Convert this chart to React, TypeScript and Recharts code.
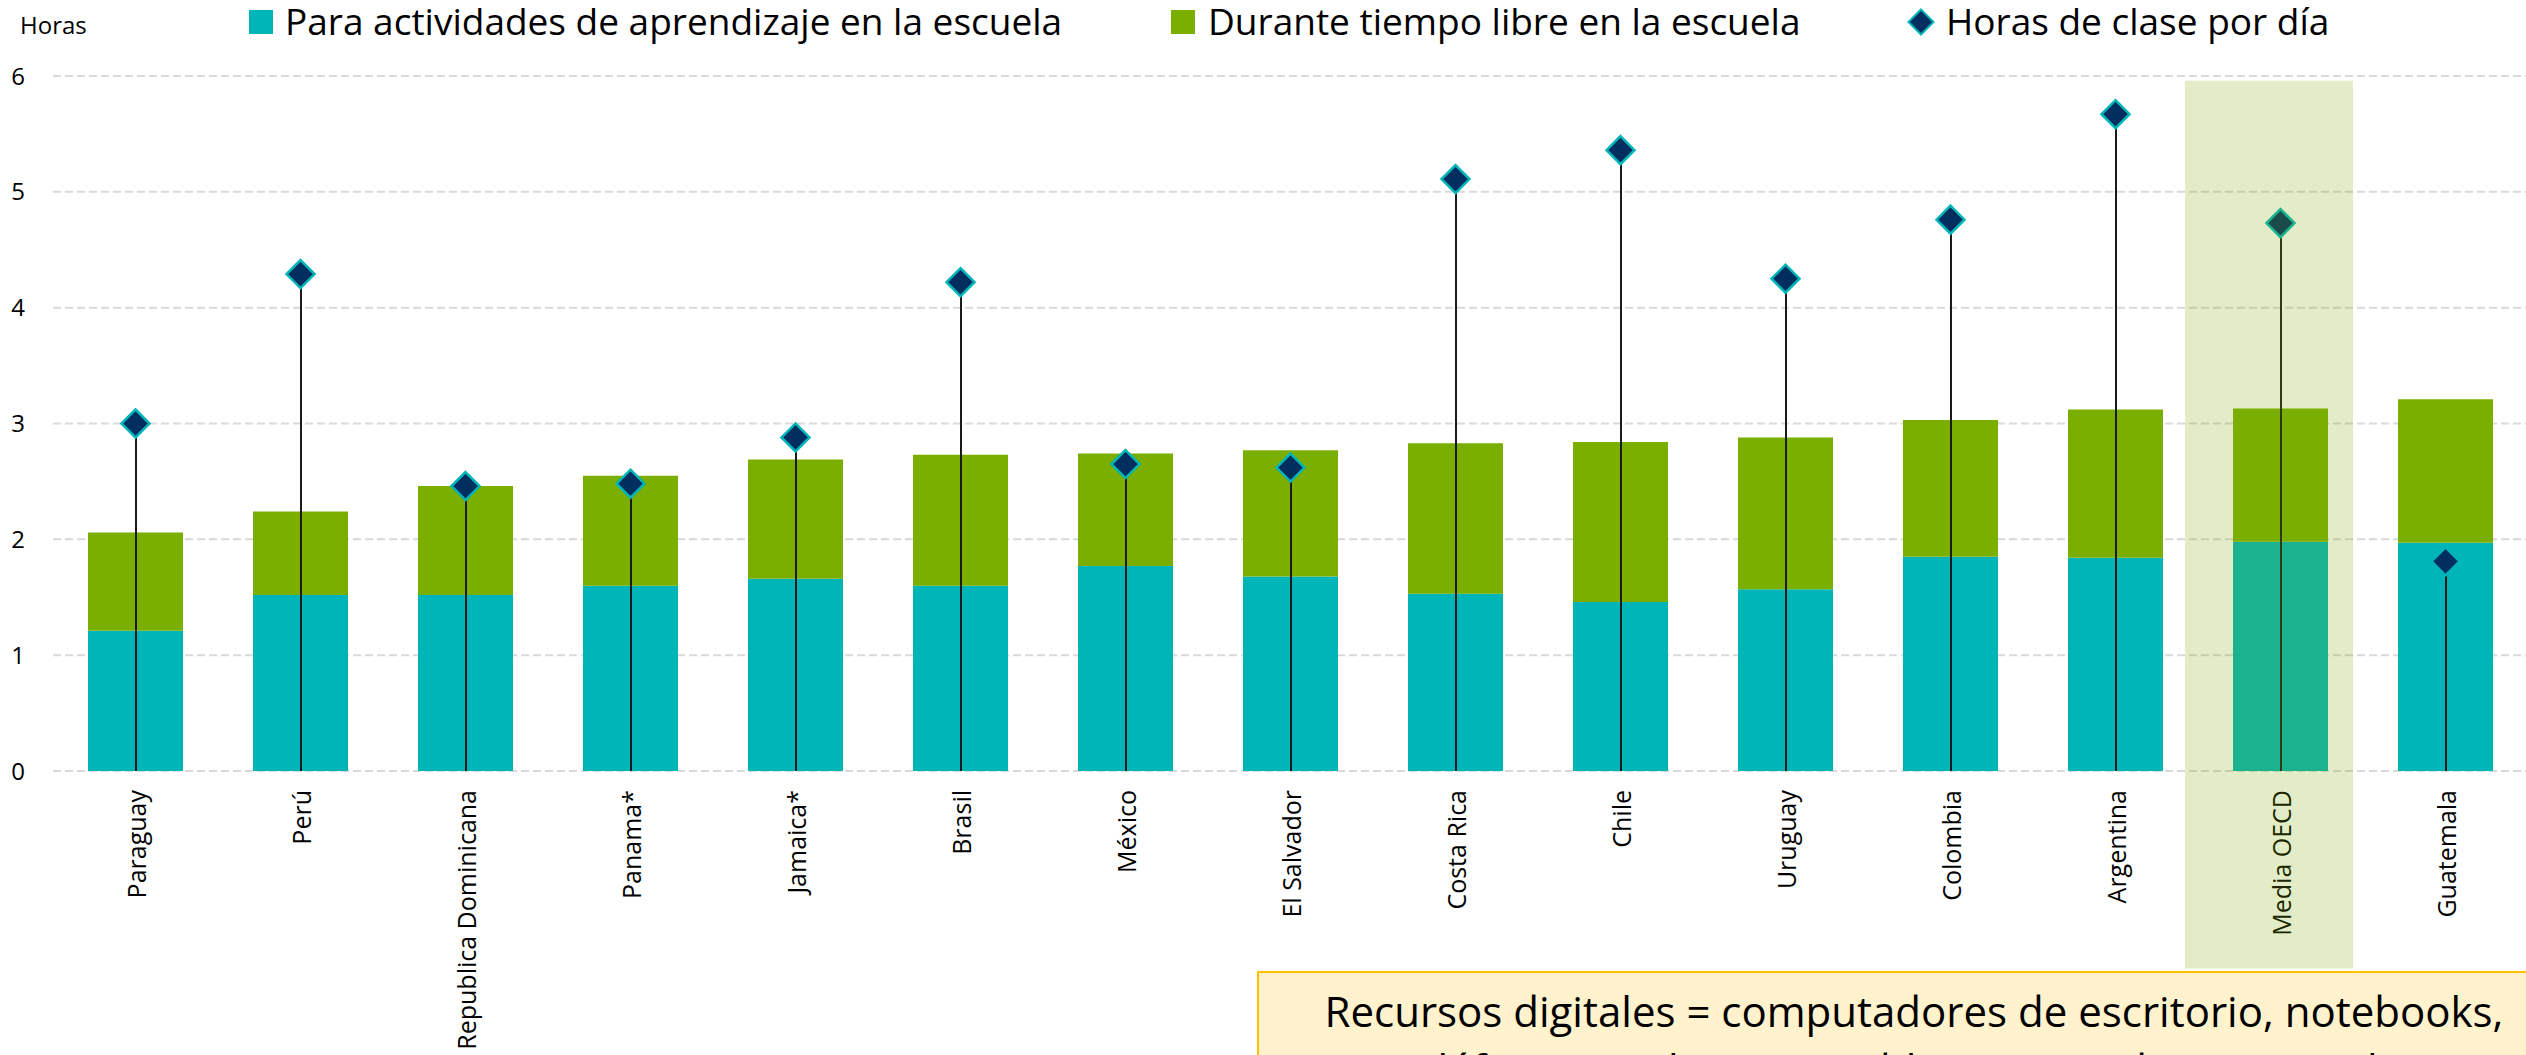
import React from "react";
import {
  ComposedChart,
  Bar,
  Scatter,
  XAxis,
  YAxis,
  CartesianGrid,
  ReferenceArea,
} from "recharts";

// horas por día
const paises = [
  "Paraguay",
  "Perú",
  "Republica Dominicana",
  "Panama*",
  "Jamaica*",
  "Brasil",
  "México",
  "El Salvador",
  "Costa Rica",
  "Chile",
  "Uruguay",
  "Colombia",
  "Argentina",
  "Media OECD",
  "Guatemala",
];
const aprendizaje = [1.21, 1.52, 1.52, 1.6, 1.66, 1.6, 1.77, 1.68, 1.53, 1.46, 1.57, 1.85, 1.84, 1.98, 1.97];
const tiempoLibre = [0.85, 0.72, 0.94, 0.95, 1.03, 1.13, 0.97, 1.09, 1.3, 1.38, 1.31, 1.18, 1.28, 1.15, 1.24];
const horasClase = [3.0, 4.29, 2.46, 2.48, 2.88, 4.22, 2.65, 2.62, 5.11, 5.36, 4.25, 4.76, 5.67, 4.73, 1.81];
const yTicks = [0, 1, 2, 3, 4, 5, 6];

const data = paises.map((pais, i) => ({
  pais,
  aprendizaje: aprendizaje[i],
  libre: tiempoLibre[i],
  horas: horasClase[i],
}));

const TEAL = "#00B5B8";
const GREEN = "#7AAF00";
const NAVY = "#002F5F";
const FONT = '"Open Sans", sans-serif';

const Diamond = (props: any) => {
  const { cx, cy } = props;
  const r = 14;
  return (
    <path
      d={`M${cx},${cy - r}L${cx + r},${cy}L${cx},${cy + r}L${cx - r},${cy}Z`}
      fill={NAVY}
      stroke={TEAL}
      strokeWidth={2.5}
    />
  );
};

const CountryTick = (props: any) => {
  const { x, y, payload } = props;
  return (
    <text
      x={x}
      y={y}
      transform={`rotate(-90, ${x}, ${y})`}
      textAnchor="end"
      dominantBaseline="central"
      fontSize={25}
      fontFamily={FONT}
      fill="#000"
    >
      {payload.value}
    </text>
  );
};

// the highlight in the original sits a little left of the category band
const Highlight = (props: any) => {
  const { x, y, width, height } = props;
  return <rect x={x - 13} y={y} width={width + 3} height={height} fill={GREEN} fillOpacity={0.22} />;
};

export default function App() {
  return (
    <div
      style={{
        position: "fixed",
        left: 0,
        top: 0,
        width: 2526,
        height: 1055,
        overflow: "hidden",
        background: "#fff",
        fontFamily: FONT,
      }}
    >
      <div style={{ position: "absolute", left: 0, top: 0 }}>
        <ComposedChart
          width={2528}
          height={1055}
          data={data}
          margin={{ top: 76, right: 0, bottom: 0, left: 0 }}
        >
          <CartesianGrid vertical={false} stroke="#D9D9D9" strokeWidth={2} strokeDasharray="8 4" />
          <XAxis
            dataKey="pais"
            height={284}
            interval={0}
            axisLine={false}
            tickLine={false}
            tickSize={0}
            tickMargin={19}
            tick={<CountryTick />}
          />
          <XAxis xAxisId="l" dataKey="pais" hide />
          <YAxis
            width={53}
            domain={[0, 6]}
            ticks={yTicks}
            axisLine={false}
            tickLine={false}
            tickSize={0}
            tickMargin={28}
            tick={{ fontSize: 24, fill: "#000", fontFamily: FONT }}
          />
          <Bar dataKey="aprendizaje" stackId="a" fill={TEAL} barSize={95} isAnimationActive={false} />
          <Bar dataKey="libre" stackId="a" fill={GREEN} barSize={95} isAnimationActive={false} />
          <Bar xAxisId="l" dataKey="horas" fill="#1a1a1a" barSize={2} isAnimationActive={false} />
          <Scatter dataKey="horas" shape={<Diamond />} isAnimationActive={false} />
          <ReferenceArea
            x1="Media OECD"
            x2="Media OECD"
            y1={-1.705}
            y2={5.96}
            ifOverflow="visible"
            shape={<Highlight />}
            {...({ zIndex: 3000 } as any)}
          />
        </ComposedChart>
      </div>
      <svg
        width={2526}
        height={1055}
        style={{ position: "absolute", left: 0, top: 0, pointerEvents: "none" }}
        fontFamily={FONT}
      >
        <text x={20} y={34} fontSize={24} fill="#000">
          Horas
        </text>
        <rect x={249} y={10} width={24} height={24} fill={TEAL} />
        <text x={285} y={35} fontSize={37} fill="#000">
          Para actividades de aprendizaje en la escuela
        </text>
        <rect x={1171} y={10} width={24} height={24} fill={GREEN} />
        <text x={1208} y={35} fontSize={37} fill="#000">
          Durante tiempo libre en la escuela
        </text>
        <path d="M1921,9.5L1933.5,22L1921,34.5L1908.5,22Z" fill={NAVY} stroke={TEAL} strokeWidth={2} />
        <text x={1946} y={35} fontSize={37} fill="#000">
          Horas de clase por día
        </text>
        <rect x={1258} y={972} width={1400} height={120} fill="#FFF2CC" stroke="#FFC000" strokeWidth={2} />
        <text x={1914} y={1027} fontSize={42} fill="#000" textAnchor="middle">
          Recursos digitales = computadores de escritorio, notebooks,
        </text>
        <text x={1910} y={1085} fontSize={42} fill="#000" textAnchor="middle">
          teléfonos inteligentes, tabletas, e-readers y consolas
        </text>
      </svg>
    </div>
  );
}
